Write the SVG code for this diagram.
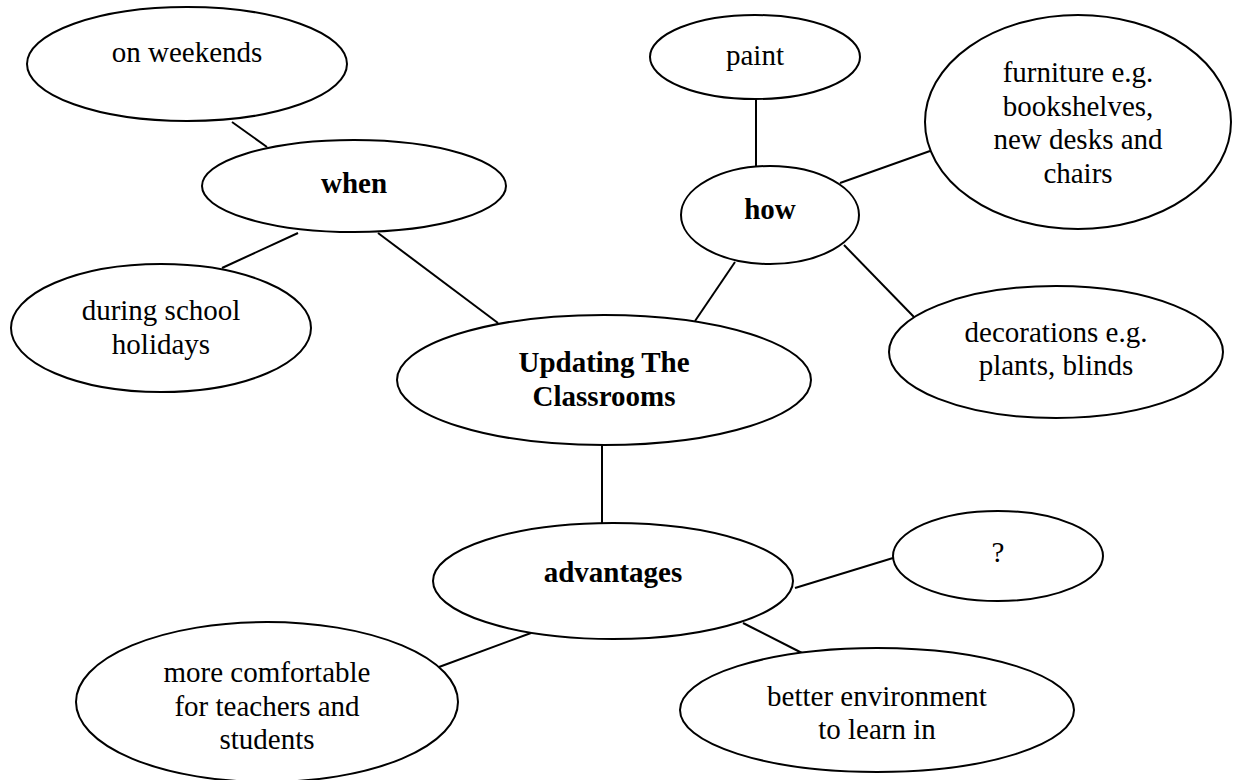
<svg xmlns="http://www.w3.org/2000/svg" width="1240" height="780" viewBox="0 0 1240 780">
<style>
ellipse{fill:#fff;stroke:#000;stroke-width:2}
line{stroke:#000;stroke-width:2}
text{font-family:"Liberation Serif","Times New Roman",serif;font-size:29px;fill:#000;text-anchor:middle}
.b{font-weight:bold}
</style>
<rect width="1240" height="780" fill="#fff"/>
<g id="connectors">
<line x1="232" y1="122" x2="267" y2="147"/>
<line x1="298" y1="233" x2="222" y2="268"/>
<line x1="378" y1="233" x2="498" y2="323"/>
<line x1="756" y1="99" x2="756" y2="166"/>
<line x1="840" y1="183" x2="930" y2="151"/>
<line x1="735" y1="262" x2="695" y2="321"/>
<line x1="844" y1="245" x2="914" y2="317"/>
<line x1="602" y1="445" x2="602" y2="524"/>
<line x1="795" y1="588" x2="893" y2="558"/>
<line x1="531" y1="633" x2="439" y2="667"/>
<line x1="743" y1="623" x2="802" y2="653"/>
</g>
<g id="on-weekends"><ellipse cx="187" cy="64" rx="160" ry="57"/><text x="187" y="62">on weekends</text></g>
<g id="when"><ellipse cx="354" cy="186" rx="152" ry="46"/><text class="b" x="354" y="193">when</text></g>
<g id="during"><ellipse cx="161" cy="328" rx="150" ry="64"/><text x="161" y="320">during school</text><text x="161" y="354">holidays</text></g>
<g id="center"><ellipse cx="604" cy="380" rx="207" ry="65"/><text class="b" x="604" y="372">Updating The</text><text class="b" x="604" y="406">Classrooms</text></g>
<g id="paint"><ellipse cx="755" cy="57" rx="105" ry="42"/><text x="755" y="65">paint</text></g>
<g id="how"><ellipse cx="770" cy="215" rx="89" ry="49"/><text class="b" x="770" y="219">how</text></g>
<g id="furniture"><ellipse cx="1078" cy="122" rx="153" ry="107"/><text x="1078" y="82">furniture e.g.</text><text x="1078" y="116">bookshelves,</text><text x="1078" y="149">new desks and</text><text x="1078" y="183">chairs</text></g>
<g id="decorations"><ellipse cx="1056" cy="352" rx="167" ry="66"/><text x="1056" y="342">decorations e.g.</text><text x="1056" y="375">plants, blinds</text></g>
<g id="advantages"><ellipse cx="613" cy="581" rx="180" ry="58"/><text class="b" x="613" y="582">advantages</text></g>
<g id="question"><ellipse cx="998" cy="556" rx="105" ry="45"/><text x="998" y="562">?</text></g>
<g id="comfortable"><ellipse cx="267" cy="702" rx="191" ry="80"/><text x="267" y="682">more comfortable</text><text x="267" y="716">for teachers and</text><text x="267" y="749">students</text></g>
<g id="better"><ellipse cx="877" cy="710" rx="197" ry="62"/><text x="877" y="706">better environment</text><text x="877" y="739">to learn in</text></g>
</svg>
